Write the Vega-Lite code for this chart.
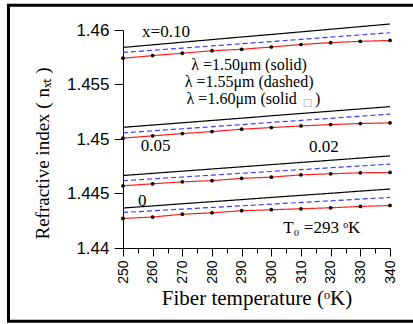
{
  "$schema": "https://vega.github.io/schema/vega-lite/v6.json",
  "width": 267,
  "height": 218,
  "autosize": "none",
  "padding": {"left": 123, "top": 30, "right": 23, "bottom": 76},
  "background": "white",
  "config": {"view": {"stroke": null}, "axis": {"labelOverlap": false, "labelBound": false, "labelFlush": false}},
  "resolve": {"axis": {"x": "independent"}},
  "datasets": {
    "curves": [
      {"x":"0.10","l":"1.50","T":250,"n":1.45840},{"x":"0.10","l":"1.50","T":260,"n":1.45864},{"x":"0.10","l":"1.50","T":270,"n":1.45888},{"x":"0.10","l":"1.50","T":280,"n":1.45912},{"x":"0.10","l":"1.50","T":290,"n":1.45936},{"x":"0.10","l":"1.50","T":300,"n":1.45959},{"x":"0.10","l":"1.50","T":310,"n":1.45983},{"x":"0.10","l":"1.50","T":320,"n":1.46007},{"x":"0.10","l":"1.50","T":330,"n":1.46031},{"x":"0.10","l":"1.50","T":340,"n":1.46055},
      {"x":"0.10","l":"1.55","T":250,"n":1.45794},{"x":"0.10","l":"1.55","T":260,"n":1.45814},{"x":"0.10","l":"1.55","T":270,"n":1.45834},{"x":"0.10","l":"1.55","T":280,"n":1.45854},{"x":"0.10","l":"1.55","T":290,"n":1.45874},{"x":"0.10","l":"1.55","T":300,"n":1.45894},{"x":"0.10","l":"1.55","T":310,"n":1.45914},{"x":"0.10","l":"1.55","T":320,"n":1.45935},{"x":"0.10","l":"1.55","T":330,"n":1.45955},{"x":"0.10","l":"1.55","T":340,"n":1.45975},
      {"x":"0.10","l":"1.60","T":250,"n":1.45741},{"x":"0.10","l":"1.60","T":260,"n":1.45765},{"x":"0.10","l":"1.60","T":270,"n":1.45787},{"x":"0.10","l":"1.60","T":280,"n":1.45810},{"x":"0.10","l":"1.60","T":290,"n":1.45823},{"x":"0.10","l":"1.60","T":300,"n":1.45844},{"x":"0.10","l":"1.60","T":310,"n":1.45867},{"x":"0.10","l":"1.60","T":320,"n":1.45884},{"x":"0.10","l":"1.60","T":330,"n":1.45896},{"x":"0.10","l":"1.60","T":340,"n":1.45904},
      {"x":"0.05","l":"1.50","T":250,"n":1.45107},{"x":"0.05","l":"1.50","T":260,"n":1.45128},{"x":"0.05","l":"1.50","T":270,"n":1.45149},{"x":"0.05","l":"1.50","T":280,"n":1.45170},{"x":"0.05","l":"1.50","T":290,"n":1.45191},{"x":"0.05","l":"1.50","T":300,"n":1.45213},{"x":"0.05","l":"1.50","T":310,"n":1.45234},{"x":"0.05","l":"1.50","T":320,"n":1.45255},{"x":"0.05","l":"1.50","T":330,"n":1.45276},{"x":"0.05","l":"1.50","T":340,"n":1.45297},
      {"x":"0.05","l":"1.55","T":250,"n":1.45056},{"x":"0.05","l":"1.55","T":260,"n":1.45075},{"x":"0.05","l":"1.55","T":270,"n":1.45094},{"x":"0.05","l":"1.55","T":280,"n":1.45113},{"x":"0.05","l":"1.55","T":290,"n":1.45132},{"x":"0.05","l":"1.55","T":300,"n":1.45152},{"x":"0.05","l":"1.55","T":310,"n":1.45171},{"x":"0.05","l":"1.55","T":320,"n":1.45190},{"x":"0.05","l":"1.55","T":330,"n":1.45209},{"x":"0.05","l":"1.55","T":340,"n":1.45228},
      {"x":"0.05","l":"1.60","T":250,"n":1.45008},{"x":"0.05","l":"1.60","T":260,"n":1.45029},{"x":"0.05","l":"1.60","T":270,"n":1.45050},{"x":"0.05","l":"1.60","T":280,"n":1.45068},{"x":"0.05","l":"1.60","T":290,"n":1.45090},{"x":"0.05","l":"1.60","T":300,"n":1.45105},{"x":"0.05","l":"1.60","T":310,"n":1.45120},{"x":"0.05","l":"1.60","T":320,"n":1.45132},{"x":"0.05","l":"1.60","T":330,"n":1.45142},{"x":"0.05","l":"1.60","T":340,"n":1.45148},
      {"x":"0.02","l":"1.50","T":250,"n":1.44665},{"x":"0.02","l":"1.50","T":260,"n":1.44685},{"x":"0.02","l":"1.50","T":270,"n":1.44705},{"x":"0.02","l":"1.50","T":280,"n":1.44725},{"x":"0.02","l":"1.50","T":290,"n":1.44745},{"x":"0.02","l":"1.50","T":300,"n":1.44765},{"x":"0.02","l":"1.50","T":310,"n":1.44785},{"x":"0.02","l":"1.50","T":320,"n":1.44805},{"x":"0.02","l":"1.50","T":330,"n":1.44825},{"x":"0.02","l":"1.50","T":340,"n":1.44845},
      {"x":"0.02","l":"1.55","T":250,"n":1.44617},{"x":"0.02","l":"1.55","T":260,"n":1.44634},{"x":"0.02","l":"1.55","T":270,"n":1.44651},{"x":"0.02","l":"1.55","T":280,"n":1.44668},{"x":"0.02","l":"1.55","T":290,"n":1.44685},{"x":"0.02","l":"1.55","T":300,"n":1.44702},{"x":"0.02","l":"1.55","T":310,"n":1.44719},{"x":"0.02","l":"1.55","T":320,"n":1.44736},{"x":"0.02","l":"1.55","T":330,"n":1.44753},{"x":"0.02","l":"1.55","T":340,"n":1.44770},
      {"x":"0.02","l":"1.60","T":250,"n":1.44571},{"x":"0.02","l":"1.60","T":260,"n":1.44589},{"x":"0.02","l":"1.60","T":270,"n":1.44607},{"x":"0.02","l":"1.60","T":280,"n":1.44618},{"x":"0.02","l":"1.60","T":290,"n":1.44639},{"x":"0.02","l":"1.60","T":300,"n":1.44650},{"x":"0.02","l":"1.60","T":310,"n":1.44671},{"x":"0.02","l":"1.60","T":320,"n":1.44681},{"x":"0.02","l":"1.60","T":330,"n":1.44690},{"x":"0.02","l":"1.60","T":340,"n":1.44693},
      {"x":"0","l":"1.50","T":250,"n":1.44367},{"x":"0","l":"1.50","T":260,"n":1.44386},{"x":"0","l":"1.50","T":270,"n":1.44406},{"x":"0","l":"1.50","T":280,"n":1.44425},{"x":"0","l":"1.50","T":290,"n":1.44444},{"x":"0","l":"1.50","T":300,"n":1.44464},{"x":"0","l":"1.50","T":310,"n":1.44483},{"x":"0","l":"1.50","T":320,"n":1.44502},{"x":"0","l":"1.50","T":330,"n":1.44522},{"x":"0","l":"1.50","T":340,"n":1.44541},
      {"x":"0","l":"1.55","T":250,"n":1.44326},{"x":"0","l":"1.55","T":260,"n":1.44341},{"x":"0","l":"1.55","T":270,"n":1.44357},{"x":"0","l":"1.55","T":280,"n":1.44372},{"x":"0","l":"1.55","T":290,"n":1.44387},{"x":"0","l":"1.55","T":300,"n":1.44403},{"x":"0","l":"1.55","T":310,"n":1.44418},{"x":"0","l":"1.55","T":320,"n":1.44433},{"x":"0","l":"1.55","T":330,"n":1.44449},{"x":"0","l":"1.55","T":340,"n":1.44464},
      {"x":"0","l":"1.60","T":250,"n":1.44271},{"x":"0","l":"1.60","T":260,"n":1.44284},{"x":"0","l":"1.60","T":270,"n":1.44310},{"x":"0","l":"1.60","T":280,"n":1.44323},{"x":"0","l":"1.60","T":290,"n":1.44342},{"x":"0","l":"1.60","T":300,"n":1.44351},{"x":"0","l":"1.60","T":310,"n":1.44360},{"x":"0","l":"1.60","T":320,"n":1.44369},{"x":"0","l":"1.60","T":330,"n":1.44381},{"x":"0","l":"1.60","T":340,"n":1.44390}
    ],
    "notes": [
      {"T":264.5,"n":1.4598,"label":"x=0.10"},
      {"T":261.0,"n":1.4494,"label":"0.05"},
      {"T":317.7,"n":1.44931,"label":"0.02"},
      {"T":256.5,"n":1.44427,"label":"0"},
      {"T":317.0,"n":1.44183,"label":"T₀ =293 ᵒK"}
    ],
    "lambdas": [
      {"T":292.5,"n":1.45679,"label":"λ =1.50μm  (solid)"},
      {"T":292.5,"n":1.45526,"label":"λ =1.55μm  (dashed)"}
    ]
  },
  "layer": [
    {
      "data": {"name": "curves"},
      "mark": {"type": "line", "strokeWidth": 1.2},
      "encoding": {
        "x": {
          "field": "T", "type": "quantitative",
          "scale": {"domain": [250, 340], "nice": false, "zero": false},
          "axis": {
            "orient": "bottom",
            "title": "Fiber temperature (ᵒK)",
            "values": [250,260,270,280,290,300,310,320,330,340],
            "format": "d",
            "labelOverlap": false,
            "labelAngle": 270,
            "labelFont": "Liberation Sans",
            "labelFontSize": 14,
            "labelColor": "black",
            "labelPadding": 4,
            "tickSize": 8,
            "tickColor": "black",
            "domainColor": "black",
            "grid": false,
            "titleFont": "Liberation Serif",
            "titleFontSize": 21,
            "titleFontWeight": "normal",
            "titleColor": "black",
            "titleBaseline": "middle",
            "titleY": 50
          }
        },
        "y": {
          "field": "n", "type": "quantitative",
          "scale": {"domain": [1.44, 1.46], "nice": false, "zero": false},
          "axis": {
            "title": "Refractive index  ( nₓₜ )",
            "values": [1.44,1.4425,1.445,1.4475,1.45,1.4525,1.455,1.4575,1.46],
            "labelExpr": "round(datum.value*10000) % 50 == 0 ? format(datum.value, '.4~g') : ''",
            "labelOverlap": false,
            "labelFont": "Liberation Sans",
            "labelFontSize": 17,
            "labelColor": "black",
            "labelPadding": 5,
            "tickSize": {"condition": {"test": "round(datum.value*10000) % 50 == 0", "value": 9}, "value": 5},
            "tickColor": "black",
            "domainColor": "black",
            "grid": false,
            "titleFont": "Liberation Serif",
            "titleFontSize": 19,
            "titleFontWeight": "normal",
            "titleColor": "black",
            "titleAngle": 270,
            "titleAlign": "center",
            "titleBaseline": "middle",
            "titleX": -81,
            "titleY": 123
          }
        },
        "color": {
          "field": "l", "type": "nominal", "legend": null,
          "scale": {"domain": ["1.50", "1.55", "1.60"], "range": ["#000000", "#3b3bff", "#ff1f1f"]}
        },
        "strokeDash": {
          "field": "l", "type": "nominal", "legend": null,
          "scale": {"domain": ["1.50", "1.55", "1.60"], "range": [[1, 0], [5, 3], [1, 0]]}
        },
        "detail": {"field": "x"}
      }
    },
    {
      "data": {"name": "curves"},
      "transform": [{"filter": "datum.l == '1.60'"}],
      "mark": {"type": "point", "filled": true, "color": "black", "size": 14, "opacity": 1},
      "encoding": {
        "x": {
          "field": "T", "type": "quantitative",
          "axis": {
            "orient": "bottom",
            "title": null,
            "values": [255,265,275,285,295,305,315,325,335],
            "labels": false,
            "domain": false,
            "grid": false,
            "tickSize": 5,
            "tickColor": "black"
          }
        },
        "y": {"field": "n", "type": "quantitative"}
      }
    },
    {
      "data": {"name": "notes"},
      "mark": {"type": "text", "font": "Liberation Serif", "fontSize": 17, "color": "black", "align": "center", "baseline": "middle"},
      "encoding": {
        "x": {"field": "T", "type": "quantitative", "axis": null},
        "y": {"field": "n", "type": "quantitative"},
        "text": {"field": "label"}
      }
    },
    {
      "data": {"name": "lambdas"},
      "mark": {"type": "text", "font": "Liberation Serif", "fontSize": 16, "color": "black", "align": "center", "baseline": "middle"},
      "encoding": {
        "x": {"field": "T", "type": "quantitative", "axis": null},
        "y": {"field": "n", "type": "quantitative"},
        "text": {"field": "label"}
      }
    },
    {
      "data": {"values": [{"T": 308.6, "n": 1.45368, "label": "λ =1.60μm (solid"}]},
      "mark": {"type": "text", "font": "Liberation Serif", "fontSize": 16, "color": "black", "align": "right", "baseline": "middle"},
      "encoding": {
        "x": {"field": "T", "type": "quantitative", "axis": null},
        "y": {"field": "n", "type": "quantitative"},
        "text": {"field": "label"}
      }
    },
    {
      "data": {"values": [{"T": 312.2, "n": 1.45327, "label": "□"}]},
      "mark": {"type": "text", "font": "DejaVu Sans", "fontSize": 10, "color": "#9a9a9a", "align": "center", "baseline": "middle"},
      "encoding": {
        "x": {"field": "T", "type": "quantitative", "axis": null},
        "y": {"field": "n", "type": "quantitative"},
        "text": {"field": "label"}
      }
    },
    {
      "data": {"values": [{"T": 314.7, "n": 1.45368, "label": ")"}]},
      "mark": {"type": "text", "font": "Liberation Serif", "fontSize": 16, "color": "black", "align": "left", "baseline": "middle"},
      "encoding": {
        "x": {"field": "T", "type": "quantitative", "axis": null},
        "y": {"field": "n", "type": "quantitative"},
        "text": {"field": "label"}
      }
    },
    {
      "data": {"values": [{"left": 211.4, "right": 348.8, "top": 1.46226, "bottom": 1.43329}]},
      "mark": {"type": "rect", "filled": false, "stroke": "black", "strokeWidth": 3},
      "encoding": {
        "x": {"field": "left", "type": "quantitative", "axis": null},
        "x2": {"field": "right"},
        "y": {"field": "top", "type": "quantitative"},
        "y2": {"field": "bottom"}
      }
    }
  ]
}
